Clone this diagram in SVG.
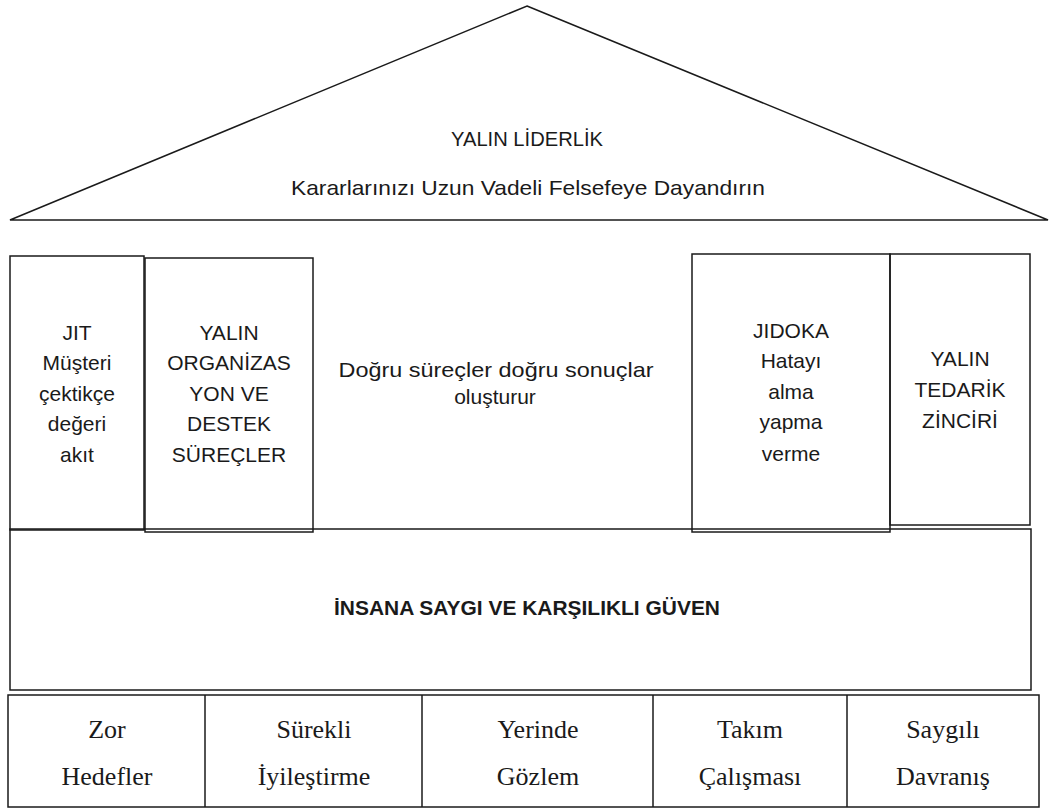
<svg xmlns="http://www.w3.org/2000/svg" width="1054" height="811" viewBox="0 0 1054 811">
<style>
.shape{fill:none;stroke:#1a1a1a;stroke-width:1.5}
.sans{font-family:"Liberation Sans",Arial,sans-serif;font-size:21px;fill:#1a1a1a;text-anchor:middle}
.bold{font-weight:bold}
.serif{font-family:"Liberation Serif","Times New Roman",serif;font-size:26px;fill:#1a1a1a;text-anchor:middle}
</style>
<rect width="1054" height="811" fill="#ffffff"/>
<g id="roof">
<polygon class="shape" points="527,6 1048,220 10,220"/>
<text class="sans" x="527" y="146" textLength="152" lengthAdjust="spacingAndGlyphs">YALIN LİDERLİK</text>
<text class="sans" x="528" y="195" textLength="474" lengthAdjust="spacingAndGlyphs">Kararlarınızı Uzun Vadeli Felsefeye Dayandırın</text>
</g>
<g id="jit">
<rect class="shape" x="10" y="256" width="134" height="274"/>
<text class="sans" x="77" y="340">JIT</text>
<text class="sans" x="77" y="370">Müşteri</text>
<text class="sans" x="77" y="401">çektikçe</text>
<text class="sans" x="77" y="431">değeri</text>
<text class="sans" x="77" y="462">akıt</text>
</g>
<g id="organizasyon">
<rect class="shape" x="145" y="258" width="168" height="274"/>
<text class="sans" x="229" y="340">YALIN</text>
<text class="sans" x="229" y="370">ORGANİZAS</text>
<text class="sans" x="229" y="401">YON VE</text>
<text class="sans" x="229" y="431">DESTEK</text>
<text class="sans" x="229" y="462">SÜREÇLER</text>
</g>
<g id="center">
<text class="sans" x="496" y="377" textLength="315" lengthAdjust="spacingAndGlyphs">Doğru süreçler doğru sonuçlar</text>
<text class="sans" x="495" y="404">oluşturur</text>
</g>
<g id="jidoka">
<rect class="shape" x="692" y="254" width="198" height="278"/>
<text class="sans" x="791" y="338">JIDOKA</text>
<text class="sans" x="791" y="368">Hatayı</text>
<text class="sans" x="791" y="399">alma</text>
<text class="sans" x="791" y="429">yapma</text>
<text class="sans" x="791" y="461">verme</text>
</g>
<g id="tedarik">
<rect class="shape" x="890" y="254" width="140" height="271"/>
<text class="sans" x="960" y="366">YALIN</text>
<text class="sans" x="960" y="397">TEDARİK</text>
<text class="sans" x="960" y="428">ZİNCİRİ</text>
</g>
<g id="insana">
<rect class="shape" x="10" y="529" width="1021" height="161"/>
<text class="sans bold" x="527" y="615" textLength="386" lengthAdjust="spacingAndGlyphs">İNSANA SAYGI VE KARŞILIKLI GÜVEN</text>
</g>
<g id="temel">
<rect class="shape" x="8" y="695" width="1031" height="112"/>
<line class="shape" x1="205" y1="695" x2="205" y2="807"/>
<line class="shape" x1="422" y1="695" x2="422" y2="807"/>
<line class="shape" x1="653" y1="695" x2="653" y2="807"/>
<line class="shape" x1="847" y1="695" x2="847" y2="807"/>
<text class="serif" x="107" y="738">Zor</text>
<text class="serif" x="107" y="785">Hedefler</text>
<text class="serif" x="314" y="738">Sürekli</text>
<text class="serif" x="314" y="785">İyileştirme</text>
<text class="serif" x="538" y="738">Yerinde</text>
<text class="serif" x="538" y="785">Gözlem</text>
<text class="serif" x="750" y="738">Takım</text>
<text class="serif" x="750" y="785">Çalışması</text>
<text class="serif" x="943" y="738">Saygılı</text>
<text class="serif" x="943" y="785">Davranış</text>
</g>
<g id="connectors"></g>
</svg>
